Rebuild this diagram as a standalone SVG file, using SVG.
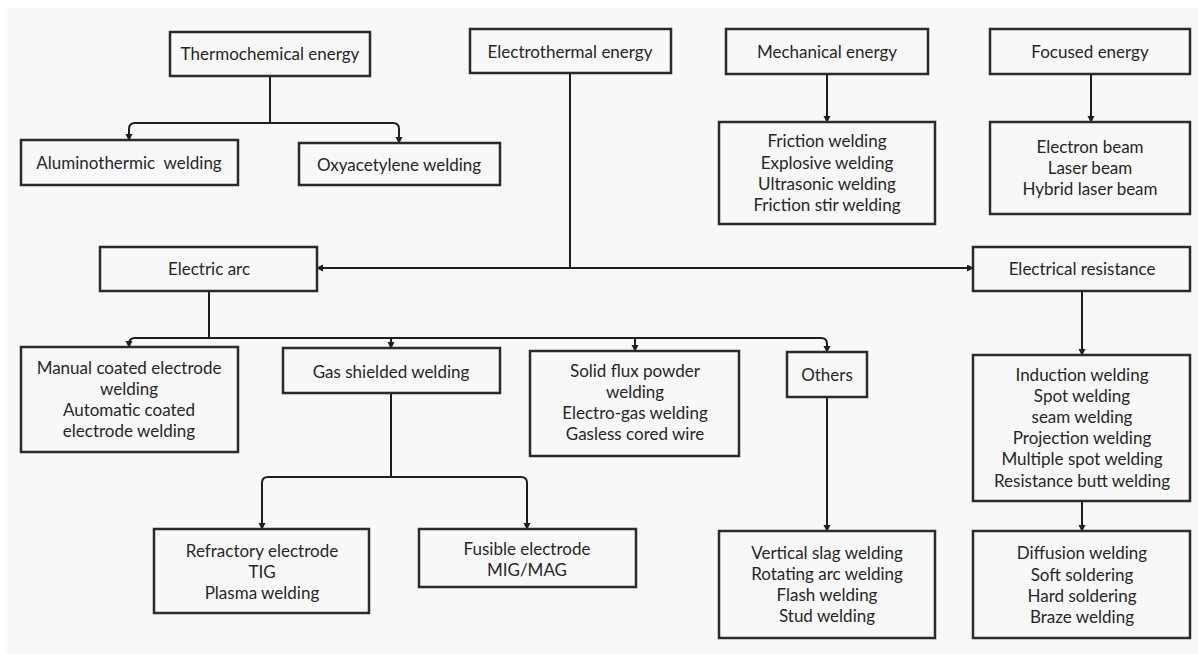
<svg xmlns="http://www.w3.org/2000/svg" width="1198" height="654" viewBox="0 0 1198 654">
<defs>
<style>
.box{fill:#f8f8f8;stroke:#2b2b2b;stroke-width:2.5}
.t{font-family:Lato,"Open Sans","Liberation Sans",sans-serif;font-size:17px;fill:#262626;text-anchor:middle}
.c{fill:none;stroke:#1e1e1e;stroke-width:2}
.a{marker-end:url(#ah)}
</style>
<marker id="ah" markerUnits="userSpaceOnUse" markerWidth="8" markerHeight="8" refX="6" refY="3.5" orient="auto">
<path d="M0,0 L7,3.5 L0,7 z" fill="#1e1e1e"/>
</marker>
</defs>
<rect x="0" y="0" width="1198" height="654" fill="#ffffff"/>
<rect x="7" y="8" width="1191" height="646" fill="#f8f8f8"/>

<g id="connectors">
<!-- Thermochemical -->
<path class="c" d="M270,76 V123"/>
<path class="c a" d="M270,123 H135 Q129,123 129,129 V140"/>
<path class="c a" d="M270,123 H393 Q399,123 399,129 V143"/>
<!-- Electrothermal -->
<path class="c" d="M570,73 V268"/>
<path class="c a" d="M570,268 H317"/>
<path class="c a" d="M570,268 H973"/>
<!-- Mechanical / Focused -->
<path class="c a" d="M827,74 V122"/>
<path class="c a" d="M1091,74 V122"/>
<!-- Electric arc -->
<path class="c" d="M209,291 V338"/>
<path class="c a" d="M209,338 H135 Q129,338 129,344 V347"/>
<path class="c" d="M209,338 H821 Q827,338 827,344"/>
<path class="c a" d="M827,343 V352"/>
<path class="c a" d="M391,338 V348"/>
<path class="c a" d="M635,338 V351"/>
<!-- Gas shielded -->
<path class="c" d="M391,393 V477"/>
<path class="c a" d="M391,477 H268 Q262,477 262,483 V529"/>
<path class="c a" d="M391,477 H521 Q527,477 527,483 V529"/>
<!-- Others -->
<path class="c a" d="M827,397 V531"/>
<!-- Electrical resistance -->
<path class="c a" d="M1082,291 V355"/>
<path class="c a" d="M1082,501 V531"/>
</g>

<g id="n-thermochemical"><rect class="box" x="170" y="32" width="200" height="44"/><text class="t" x="270" y="60">Thermochemical energy</text></g>
<g id="n-electrothermal"><rect class="box" x="470" y="29" width="201" height="44"/><text class="t" x="570" y="58">Electrothermal energy</text></g>
<g id="n-mechanical"><rect class="box" x="726" y="29" width="202" height="45"/><text class="t" x="827" y="58">Mechanical energy</text></g>
<g id="n-focused"><rect class="box" x="990" y="29" width="200" height="45"/><text class="t" x="1090" y="58">Focused energy</text></g>

<g id="n-aluminothermic"><rect class="box" x="21" y="140" width="217" height="45"/><text class="t" x="129" y="169" xml:space="preserve">Aluminothermic  welding</text></g>
<g id="n-oxyacetylene"><rect class="box" x="299" y="143" width="201" height="42"/><text class="t" x="399" y="171">Oxyacetylene welding</text></g>

<g id="n-mech-list"><rect class="box" x="719" y="122" width="216" height="102"/>
<text class="t" x="827" y="147">Friction welding</text>
<text class="t" x="827" y="169">Explosive welding</text>
<text class="t" x="827" y="190">Ultrasonic welding</text>
<text class="t" x="827" y="211">Friction stir welding</text></g>

<g id="n-focused-list"><rect class="box" x="990" y="122" width="200" height="92"/>
<text class="t" x="1090" y="153">Electron beam</text>
<text class="t" x="1090" y="174">Laser beam</text>
<text class="t" x="1090" y="195">Hybrid laser beam</text></g>

<g id="n-electric-arc"><rect class="box" x="100" y="247" width="217" height="44"/><text class="t" x="209" y="275">Electric arc</text></g>
<g id="n-electrical-resistance"><rect class="box" x="973" y="247" width="217" height="44"/><text class="t" x="1082" y="275">Electrical resistance</text></g>

<g id="n-manual"><rect class="box" x="21" y="347" width="217" height="105"/>
<text class="t" x="129" y="374">Manual coated electrode</text>
<text class="t" x="129" y="395">welding</text>
<text class="t" x="129" y="416">Automatic coated</text>
<text class="t" x="129" y="437">electrode welding</text></g>

<g id="n-gas"><rect class="box" x="283" y="348" width="217" height="45"/><text class="t" x="391" y="378">Gas shielded welding</text></g>

<g id="n-solid-flux"><rect class="box" x="530" y="351" width="209" height="105"/>
<text class="t" x="635" y="377">Solid flux powder</text>
<text class="t" x="635" y="398">welding</text>
<text class="t" x="635" y="419">Electro-gas welding</text>
<text class="t" x="635" y="440">Gasless cored wire</text></g>

<g id="n-others"><rect class="box" x="787" y="352" width="80" height="45"/><text class="t" x="827" y="381">Others</text></g>

<g id="n-induction"><rect class="box" x="973" y="355" width="217" height="146"/>
<text class="t" x="1082" y="381">Induction welding</text>
<text class="t" x="1082" y="402">Spot welding</text>
<text class="t" x="1082" y="423">seam welding</text>
<text class="t" x="1082" y="444">Projection welding</text>
<text class="t" x="1082" y="465">Multiple spot welding</text>
<text class="t" x="1082" y="487">Resistance butt welding</text></g>

<g id="n-refractory"><rect class="box" x="154" y="529" width="215" height="84"/>
<text class="t" x="262" y="557">Refractory electrode</text>
<text class="t" x="262" y="578">TIG</text>
<text class="t" x="262" y="599">Plasma welding</text></g>

<g id="n-fusible"><rect class="box" x="419" y="529" width="217" height="58"/>
<text class="t" x="527" y="555">Fusible electrode</text>
<text class="t" x="527" y="576">MIG/MAG</text></g>

<g id="n-vertical-slag"><rect class="box" x="719" y="531" width="216" height="107"/>
<text class="t" x="827" y="559">Vertical slag welding</text>
<text class="t" x="827" y="580">Rotating arc welding</text>
<text class="t" x="827" y="601">Flash welding</text>
<text class="t" x="827" y="622">Stud welding</text></g>

<g id="n-diffusion"><rect class="box" x="973" y="531" width="217" height="107"/>
<text class="t" x="1082" y="559">Diffusion welding</text>
<text class="t" x="1082" y="581">Soft soldering</text>
<text class="t" x="1082" y="602">Hard soldering</text>
<text class="t" x="1082" y="623">Braze welding</text></g>
</svg>
